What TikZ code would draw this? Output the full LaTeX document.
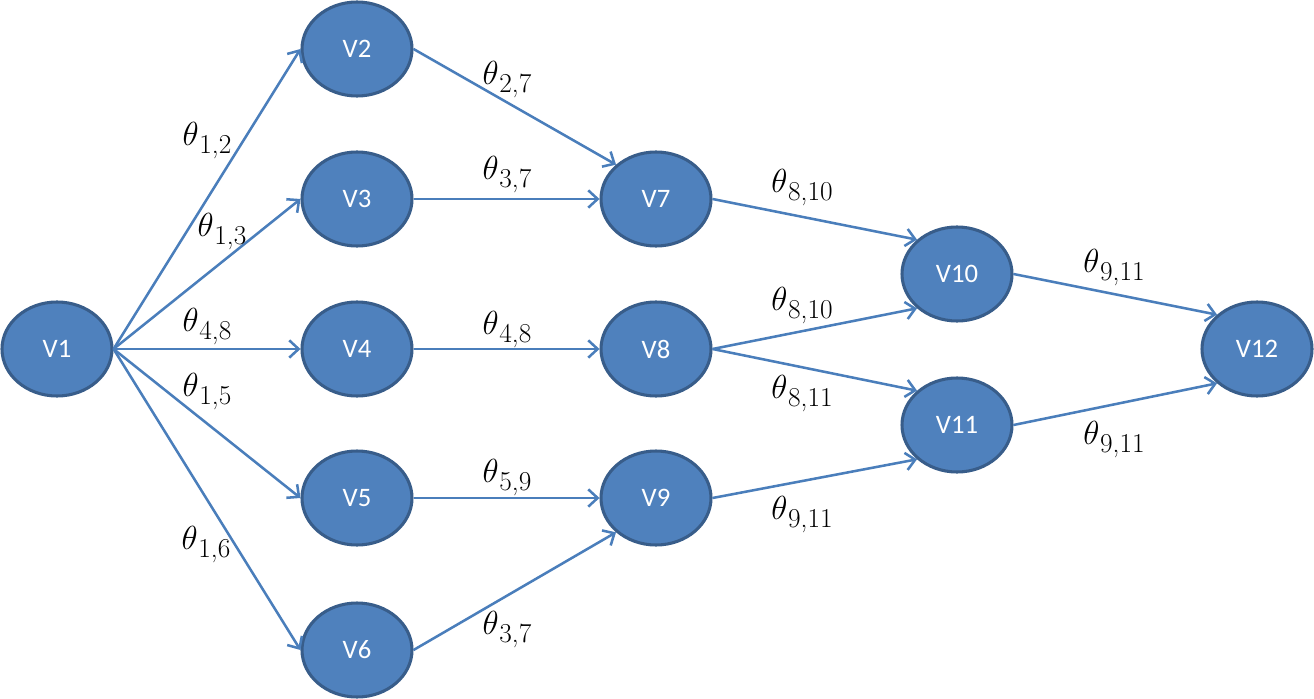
\RequirePackage{fix-cm}
\documentclass[tikz,border=0pt]{standalone}
\usepackage{fontspec}
\setsansfont{Carlito}
\usetikzlibrary{shapes.geometric,arrows.meta}
\definecolor{nodefill}{RGB}{79,129,189}
\definecolor{nodeline}{RGB}{56,93,138}
\definecolor{edgeline}{RGB}{74,126,187}
\newcommand{\thetasub}[1]{$\theta$\kern0.5pt\raisebox{-6pt}{\fontsize{20.5}{24}\selectfont #1}}
\tikzset{
  vertex/.style={ellipse,draw=nodeline,fill=nodefill,line width=2.3pt,
    minimum width=82.5pt,minimum height=70.5pt,inner sep=0pt,
    text=white,font=\sffamily\fontsize{20}{24}\selectfont},
  edge/.style={draw=edgeline,line width=1.9pt,
    -{Straight Barb[length=7pt,width=13pt]}},
  weight/.style={font=\fontsize{25}{30}\selectfont,inner sep=0pt}
}
\begin{document}
\begin{tikzpicture}[x=0.75pt,y=0.75pt,yscale=-1,xscale=1]
\useasboundingbox (0,0) rectangle (1314,699);

% Vertices
\node [vertex] (v1) at (57,349) {V1};
\node [vertex] (v2) at (357,49) {V2};
\node [vertex] (v3) at (357,199) {V3};
\node [vertex] (v4) at (357,349) {V4};
\node [vertex] (v5) at (357,498) {V5};
\node [vertex] (v6) at (357,650) {V6};
\node [vertex] (v7) at (656,199) {V7};
\node [vertex] (v8) at (656,349) {V8};
\node [vertex] (v9) at (656,498) {V9};
\node [vertex] (v10) at (957,274) {V10};
\node [vertex] (v11) at (957,425) {V11};
\node [vertex] (v12) at (1257,349) {V12};

% Edges out of V1
\draw [edge] (v1.east) -- (v2.west);
\draw [edge] (v1.east) -- (v3.west);
\draw [edge] (v1.east) -- (v4.west);
\draw [edge] (v1.east) -- (v5.west);
\draw [edge] (v1.east) -- (v6.west);
% Second layer
\draw [edge] (v2.east) -- (v7.north west);
\draw [edge] (v3.east) -- (v7.west);
\draw [edge] (v4.east) -- (v8.west);
\draw [edge] (v5.east) -- (v9.west);
\draw [edge] (v6.east) -- (v9.south west);
% Third layer
\draw [edge] (v7.east) -- (v10.north west);
\draw [edge] (v8.east) -- (v10.south west);
\draw [edge] (v8.east) -- (v11.north west);
\draw [edge] (v9.east) -- (v11.south west);
% Last layer
\draw [edge] (v10.east) -- (v12.north west);
\draw [edge] (v11.east) -- (v12.south west);

% Text Node
\node [weight] (w12) at (207,141) {\thetasub{1,2}};
% Text Node
\node [weight] (w13) at (222,232) {\thetasub{1,3}};
% Text Node
\node [weight] (w48a) at (207,327) {\thetasub{4,8}};
% Text Node
\node [weight] (w15) at (207,392) {\thetasub{1,5}};
% Text Node
\node [weight] (w16) at (206,545) {\thetasub{1,6}};
% Text Node
\node [weight] (w27) at (507,80) {\thetasub{2,7}};
% Text Node
\node [weight] (w37a) at (507,175) {\thetasub{3,7}};
% Text Node
\node [weight] (w48b) at (507,330) {\thetasub{4,8}};
% Text Node
\node [weight] (w59) at (507,478) {\thetasub{5,9}};
% Text Node
\node [weight] (w37b) at (507,630) {\thetasub{3,7}};
% Text Node
\node [weight] (w810a) at (802,188) {\thetasub{8,10}};
% Text Node
\node [weight] (w810b) at (802,306) {\thetasub{8,10}};
% Text Node
\node [weight] (w811) at (802,394) {\thetasub{8,11}};
% Text Node
\node [weight] (w911a) at (802,515) {\thetasub{9,11}};
% Text Node
\node [weight] (w911b) at (1114,268) {\thetasub{9,11}};
% Text Node
\node [weight] (w911c) at (1114,440) {\thetasub{9,11}};

\end{tikzpicture}
\end{document}
